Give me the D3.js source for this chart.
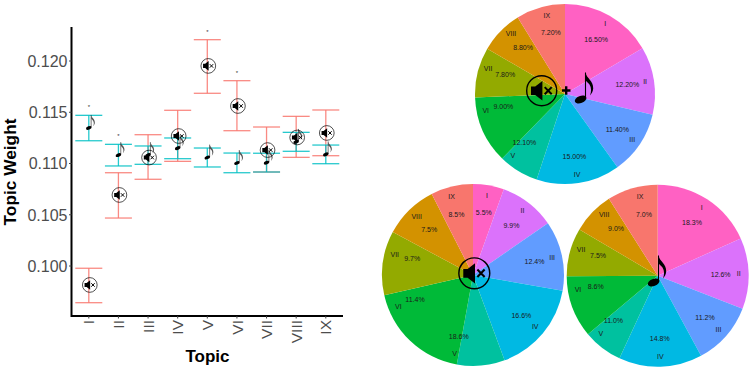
<!DOCTYPE html>
<html><head><meta charset="utf-8">
<script src="https://cdn.jsdelivr.net/npm/d3@7/dist/d3.min.js"></script>
<style>html,body{margin:0;padding:0;background:#fff}svg{display:block}text{font-family:"Liberation Sans",Arial,sans-serif}</style>
</head><body><svg id="c" width="750" height="371"></svg>
<script>
const topics = ["I","II","III","IV","V","VI","VII","VIII","IX"];
const yTicks = [0.100,0.105,0.110,0.115,0.120];

const musicMean  = [0.11347,0.11082,0.11082,0.11150,0.11058,0.11005,0.11008,0.11211,0.11089];
const musicUpper = [0.11470,0.11187,0.11171,0.11249,0.11151,0.11102,0.11100,0.11304,0.11180];
const musicLower = [0.11222,0.10976,0.10992,0.11047,0.10966,0.10910,0.10917,0.11119,0.10998];
const silentMean  = [0.09815,0.10693,0.11058,0.11268,0.11952,0.11561,0.11131,0.11254,0.11298];
const silentUpper = [0.09978,0.10910,0.11281,0.11519,0.12208,0.11808,0.11356,0.11460,0.11522];
const silentLower = [0.09642,0.10468,0.10846,0.11021,0.11685,0.11320,0.10917,0.11060,0.11076];
const significant = [1,1,0,0,1,1,0,0,0];

const colors = ["#FF61C3","#DB72FB","#619CFF","#00B9E3","#00C19F","#00BA38","#93AA00","#D39200","#F8766D"];

const bothSlices    = [16.5,12.2,11.4,15.0,7.2,12.1,9.0,7.8,8.8];
const bothLabels    = [16.5,12.2,11.4,15.0,12.1,9.0,7.8,8.8,7.2];
const silentSlices  = [5.5,9.9,12.4,16.6,8.5,18.6,11.4,9.7,7.5];
const silentLabels  = [5.5,9.9,12.4,16.6,18.6,11.4,9.7,7.5,8.5];
const musicSlices   = [18.3,12.6,11.2,14.8,7.0,11.0,8.6,7.5,9.0];
const musicLabels   = [18.3,12.6,11.2,14.8,11.0,8.6,7.5,9.0,7.0];

const svg = d3.select("#c");
const RED = "#F8766D", TEAL = "#00BFC4";

const x = d3.scalePoint().domain(topics).range([88.8,325.8]);
const y = d3.scaleLinear().domain([0.100,0.120]).range([266,61]);
const bottomY = 316, topY = 27, leftX = 71.5, rightX = 343;

function speaker(sel, cx, cy, s){
  const g = sel.append("g").attr("transform",`translate(${cx},${cy}) scale(${s})`);
  g.append("circle").attr("r",15).attr("fill","none").attr("stroke","#000").attr("stroke-width",1.4);
  g.append("path").attr("d","M-10.7,-4.2H-6.5L0.7,-9.8V9.8L-6.5,4.2H-10.7Z").attr("fill","#000");
  g.append("path").attr("d","M3,-3.6L10,3.6M10,-3.6L3,3.6").attr("stroke","#000").attr("stroke-width",2).attr("fill","none");
}
function note(sel, hx, hy, s, flagFill){
  const g = sel.append("g").attr("transform",`translate(${hx},${hy}) scale(${s})`);
  g.append("ellipse").attr("rx",6.1).attr("ry",3.5).attr("transform","rotate(-22)").attr("fill","#000");
  g.append("line").attr("x1",4.9).attr("x2",4.9).attr("y1",-1).attr("y2",-27).attr("stroke","#000").attr("stroke-width",1.1);
  g.append("path").attr("transform","translate(4.9,-27)")
    .attr("d","M0,0C1,6 8,8 7.7,16C7.6,19 6,21 4.5,23C6,19 6,15 4,12C2.5,10 1,9 0,8Z").attr("fill",flagFill);
}

// Error bars
function bars(upper, lower, color){
  const g = svg.append("g").attr("stroke",color).attr("stroke-width",1.3).attr("stroke-opacity",0.85).attr("fill","none");
  topics.forEach((t,i)=>{
    const px = x(t);
    g.append("line").attr("x1",px).attr("x2",px).attr("y1",y(upper[i])).attr("y2",y(lower[i]));
    [upper[i],lower[i]].forEach(v=>g.append("line").attr("x1",px-13.5).attr("x2",px+13.5).attr("y1",y(v)).attr("y2",y(v)));
  });
}
bars(silentUpper,silentLower,RED);
bars(musicUpper,musicLower,TEAL);

topics.forEach((t,i)=>{
  note(svg, x(t), y(musicMean[i]), 0.48, "#555");
  speaker(svg, x(t)+1, y(silentMean[i]), 0.49);
  if(significant[i]){
    svg.append("text").attr("x",x(t)).attr("y",y(Math.max(musicUpper[i],silentUpper[i]))-6)
      .attr("text-anchor","middle").attr("font-size",6).attr("fill","#333").text("*");
  }
});

// Axes
svg.append("path").attr("d",`M${leftX},${topY}V${bottomY}H${rightX}`).attr("fill","none").attr("stroke","#000").attr("stroke-width",2);
yTicks.forEach(v=>{
  svg.append("line").attr("x1",leftX-2.5).attr("x2",leftX).attr("y1",y(v)).attr("y2",y(v)).attr("stroke","#444").attr("stroke-width",1);
  svg.append("text").attr("x",67.5).attr("y",y(v)).attr("dy","0.36em").attr("text-anchor","end")
    .attr("font-size",16).attr("fill","#4D4D4D").text(v.toFixed(3));
});
topics.forEach(t=>{
  svg.append("line").attr("x1",x(t)).attr("x2",x(t)).attr("y1",bottomY).attr("y2",bottomY+2.5).attr("stroke","#444").attr("stroke-width",1);
  svg.append("text").attr("transform",`translate(${x(t)},320) rotate(-90)`).attr("dy","0.36em").attr("text-anchor","end")
    .attr("font-size",15.5).attr("fill","#4D4D4D").text(t);
});
svg.append("text").attr("x",207.5).attr("y",362).attr("text-anchor","middle").attr("font-size",17).attr("font-weight","bold").text("Topic");
svg.append("text").attr("transform","translate(16,172) rotate(-90)").attr("text-anchor","middle").attr("font-size",17.3).attr("font-weight","bold").text("Topic Weight");

// Pies
function drawPie(cx, cy, R, slices, labels, fmt){
  const g = svg.append("g").attr("transform",`translate(${cx},${cy})`);
  const pie = d3.pie().sort(null).value(d=>d);
  const arc = d3.arc().innerRadius(0).outerRadius(R);
  g.selectAll("path").data(pie(slices)).join("path").attr("d",arc).attr("fill",(d,i)=>colors[i]);
  const labelArcs = pie(labels);
  const pos = (a,r)=>{const m=(a.startAngle+a.endAngle)/2;return [r*Math.sin(m),-r*Math.cos(m)];};
  labelArcs.forEach((a,i)=>{
    const [nx,ny]=pos(a,81), [px,py]=pos(a,63);
    g.append("text").attr("x",nx).attr("y",ny).attr("dy","0.36em").attr("text-anchor","middle").attr("font-size",7).attr("fill","#1a1a1a").text(topics[i]);
    g.append("text").attr("x",px).attr("y",py).attr("dy","0.36em").attr("text-anchor","middle").attr("font-size",7).attr("fill","#1a1a1a").text(fmt(labels[i]));
  });
}
const f2 = v=>v.toFixed(2)+"%", f1 = v=>v.toFixed(1)+"%";
drawPie(565,94,90,bothSlices,bothLabels,f2);
drawPie(473,275,91,silentSlices,silentLabels,f1);
drawPie(657.7,275.7,91,musicSlices,musicLabels,f1);

speaker(svg,541.7,90.7,1);
svg.append("path").attr("d","M562,90.5H570.5M566.2,86.3V94.7").attr("stroke","#000").attr("stroke-width",2.4);
note(svg,580.6,99.5,1,"#000");
speaker(svg,474.3,273.3,1.03);
note(svg,653.6,282.5,1,"#000");
</script></body></html>
